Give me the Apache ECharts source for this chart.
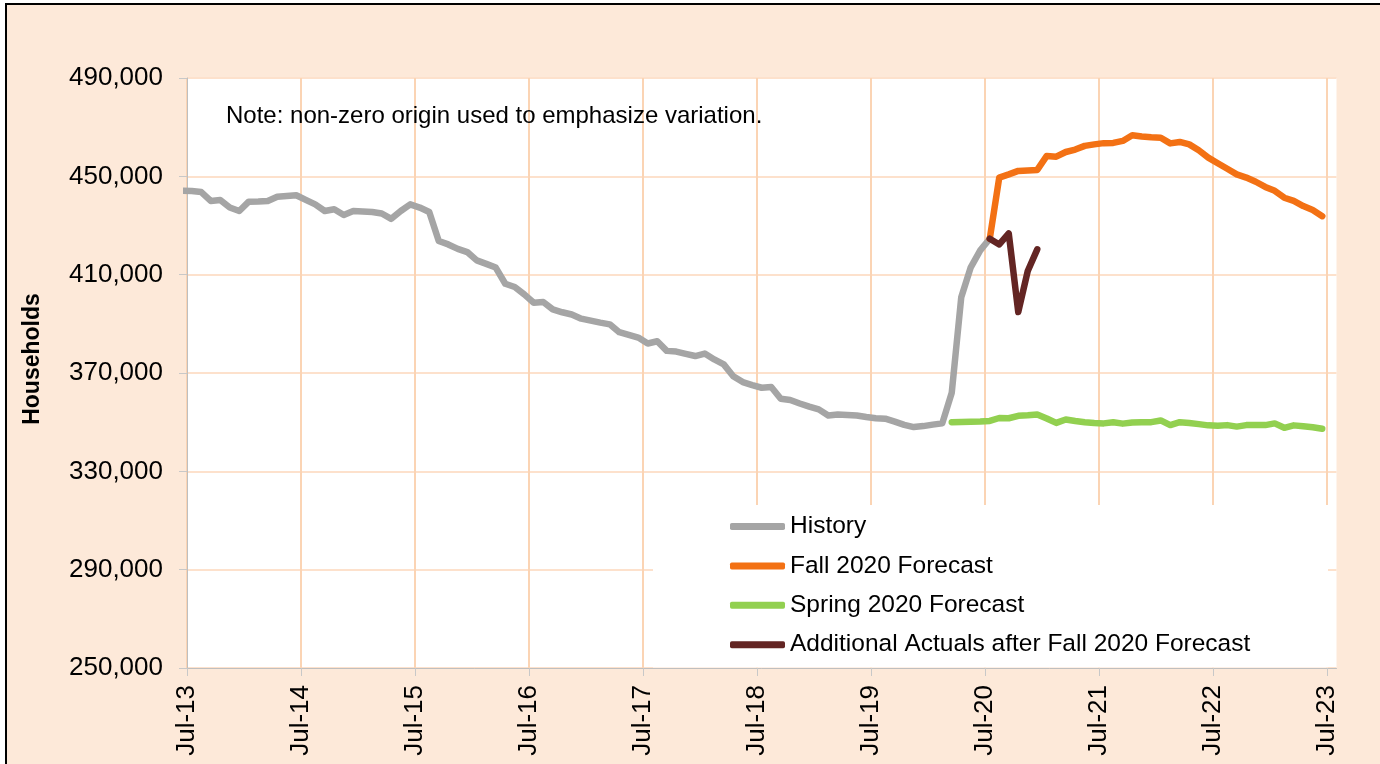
<!DOCTYPE html>
<html>
<head>
<meta charset="utf-8">
<script src="https://cdn.jsdelivr.net/npm/echarts@6/dist/echarts.min.js"></script>
<style>
html, body { margin: 0; padding: 0; background: #fff; overflow: hidden; }
#frame { position: absolute; left: 5px; top: 3px; width: 1400px; height: 800px; border: 2px solid #000; background: #FDE9D9; }
#main { position: absolute; left: 0; top: 0; width: 1380px; height: 764px; }
</style>
</head>
<body>
<div id="frame"></div>
<div id="main"></div>
<script>
// month index 0 = Jul-13, points sit mid-month
var tickMonths = [0, 12, 24, 36, 48, 60, 72, 84, 96, 108, 120];
var tickLabels = ['Jul-13', 'Jul-14', 'Jul-15', 'Jul-16', 'Jul-17', 'Jul-18', 'Jul-19', 'Jul-20', 'Jul-21', 'Jul-22', 'Jul-23'];

// History starts Jun-13 (month -1)
var historyStart = -1;
var historyValues = [
	444100, 444000, 443600, 440000, 440400, 437300, 435900, 439700, 439800, 440000,
	441700, 442000, 442300, 440400, 438600, 435900, 436600, 434300, 435900, 435700,
	435500, 434900, 432700, 435900, 438600, 437300, 435500, 423700, 422300, 420500,
	419200, 415800, 414400, 412900, 406300, 405000, 402000, 398600, 398900, 395900,
	394700, 393800, 392100, 391300, 390500, 389800, 386600, 385500, 384400, 382000,
	382900, 379000, 378700, 377800, 376900, 377900, 375500, 373500, 368700, 366300,
	365100, 364000, 364300, 359500, 359000, 357600, 356300, 355200, 352700, 353100,
	352900, 352700, 352100, 351600, 351400, 350200, 348900, 348000, 348400, 349000,
	349500, 362000, 400800, 413000, 419900, 424600
];

// Fall 2020 forecast starts Jul-20
var fallStart = 84;
var fallValues = [
	424600, 449500, 450800, 452200, 452400, 452600, 458300, 458000, 459900, 460900,
	462400, 463000, 463500, 463600, 464400, 466700, 466200, 465900, 465700, 463400,
	464000, 463000, 460600, 457600, 455300, 453100, 450800, 449500, 447800, 445700,
	444100, 441300, 440000, 437900, 436300, 433800
];

// Spring 2020 forecast starts Mar-20
var springStart = 80;
var springValues = [
	350000, 350100, 350200, 350300, 350500, 351700, 351600, 352600, 352800, 353100,
	351500, 349700, 351100, 350500, 350000, 349700, 349500, 350000, 349400, 349900,
	350000, 350000, 350700, 348800, 350000, 349700, 349200, 348700, 348500, 348800,
	348200, 348800, 348800, 348800, 349500, 347700, 348700, 348300, 347900, 347300
];

// additional actuals start Jul-20
var actualStart = 84;
var actualValues = [424600, 422300, 426800, 394800, 411500, 420300];

var FONT = "'Liberation Sans', Arial, sans-serif";

function toPoints(start, values) {
	var pts = [];
	for (var k = 0; k < values.length; k++) {
		pts.push([start + k + 0.5, values[k]]);
	}
	return pts;
}

function makeSeries(name, color, start, values) {
	return {
		name: name,
		type: 'line',
		symbol: 'none',
		clip: true,
		color: color,
		itemStyle: { color: color },
		lineStyle: { color: color, width: 6.5, cap: 'round', join: 'round' },
		data: toPoints(start, values)
	};
}

var chart = echarts.init(document.getElementById('main'), null, { renderer: 'canvas' });

var option = {
	backgroundColor: 'transparent',
	animation: false,
	grid: {
		left: 187, right: 43.5, top: 78, bottom: 96,
		show: true, backgroundColor: '#fff', borderWidth: 0,
		outerBoundsMode: 'none'
	},
	legend: {
		orient: 'vertical',
		left: 730, top: 514,
		padding: 0,
		icon: 'roundRect',
		itemWidth: 55, itemHeight: 7, itemGap: 14.4,
		textStyle: { fontSize: 24.5, color: '#000', fontFamily: FONT, lineHeight: 24 },
		z: 5
	},
	xAxis: {
		type: 'value',
		min: 0, max: 121, interval: 12,
		axisLine: { show: true, onZero: false, lineStyle: { color: '#BFBFBF', width: 1 } },
		axisTick: { show: true, length: 8, customValues: tickMonths, lineStyle: { color: '#C8C8C8', width: 1 } },
		axisLabel: {
			customValues: tickMonths,
			rotate: 90, margin: 17,
			fontSize: 26, color: '#000', fontFamily: FONT,
			formatter: function(v) {
				var i = tickMonths.indexOf(v);
				return i >= 0 ? tickLabels[i] : '';
			}
		},
		splitLine: { show: true, lineStyle: { color: '#FBD4B4', width: 2 } }
	},
	yAxis: {
		type: 'value',
		min: 250000, max: 490000, interval: 40000,
		axisLine: { show: true, lineStyle: { color: '#BFBFBF', width: 1 } },
		axisTick: { show: true, length: 8, lineStyle: { color: '#C8C8C8', width: 1 } },
		axisLabel: {
			margin: 24, fontSize: 26, color: '#000', fontFamily: FONT,
			formatter: function(v) { return v.toLocaleString('en-US'); }
		},
		splitLine: { show: true, lineStyle: { color: '#FDE1CC', width: 2 } }
	},
	graphic: [
		{
			type: 'rect', z: 3,
			shape: { x: 653, y: 505, width: 675, height: 162.5 },
			style: { fill: '#fff' }
		},
		{
			type: 'text', z: 3,
			x: 226, y: 116,
			style: {
				text: 'Note: non-zero origin used to emphasize variation.',
				font: '24px ' + FONT, fill: '#000',
				textAlign: 'left', textVerticalAlign: 'middle'
			}
		},
		{
			type: 'text', z: 3,
			x: 33, y: 359, rotation: Math.PI / 2,
			style: {
				text: 'Households',
				font: 'bold 23px ' + FONT, fill: '#000',
				textAlign: 'center', textVerticalAlign: 'middle'
			}
		}
	],
	series: [
		makeSeries('History', '#A5A5A5', historyStart, historyValues),
		makeSeries('Fall 2020 Forecast', '#F37114', fallStart, fallValues),
		makeSeries('Spring 2020 Forecast', '#92D050', springStart, springValues),
		makeSeries('Additional Actuals after Fall 2020 Forecast', '#632523', actualStart, actualValues)
	]
};

chart.setOption(option);
</script>
</body>
</html>
